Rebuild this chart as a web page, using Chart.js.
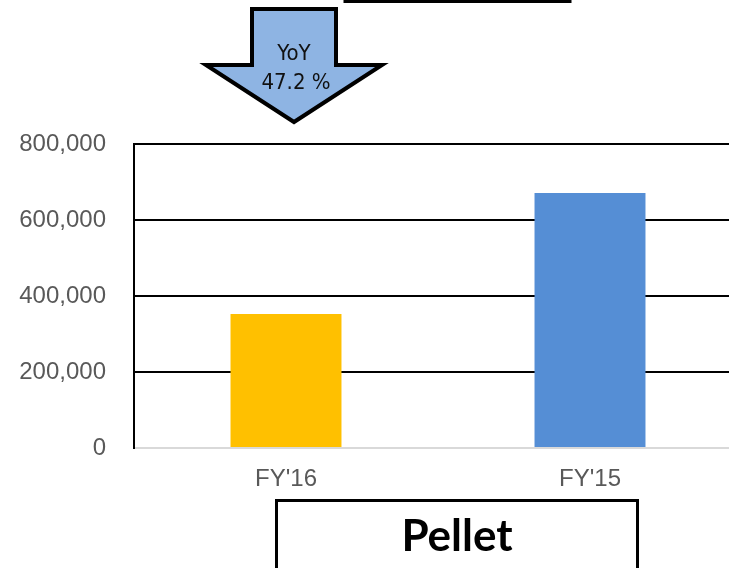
<!DOCTYPE html>
<html>
<head>
<meta charset="utf-8">
<script src="https://cdn.jsdelivr.net/npm/chart.js@4.4.1/dist/chart.umd.min.js"></script>
<style>
  html, body { margin: 0; padding: 0; background: #fff; overflow: hidden; }
  #wrap { position: relative; width: 742px; height: 568px; }
</style>
</head>
<body>
<div id="wrap"><canvas id="chart" width="742" height="568"></canvas></div>
<script>
// --- datos ---
const categories = ["FY'16", "FY'15"];
const volumes = [352600, 671000];
const barColors = ['#FFC000', '#558ED5'];
const yTicks = [0, 200000, 400000, 600000, 800000];
const yoyLabel = ['YoY', '47.2 %'];
const boxLabel = 'Pellet';

// Dibuja la flecha, las cajas y los textos fuera del gráfico
const decorations = {
    id: 'decorations',
    afterDraw(chart) {
        const ctx = chart.ctx;
        ctx.save();

        // caja superior (solo se ve el borde inferior)
        ctx.strokeStyle = '#000';
        ctx.lineWidth = 3;
        ctx.strokeRect(345, -20, 225, 21.5);

        // flecha hacia abajo
        ctx.beginPath();
        ctx.moveTo(252, 9);
        ctx.lineTo(336, 9);
        ctx.lineTo(336, 65);
        ctx.lineTo(382, 65);
        ctx.lineTo(294, 122);
        ctx.lineTo(206, 65);
        ctx.lineTo(252, 65);
        ctx.closePath();
        ctx.fillStyle = '#8EB4E3';
        ctx.fill();
        ctx.lineWidth = 4;
        ctx.lineJoin = 'miter';
        ctx.stroke();

        ctx.fillStyle = '#111';
        ctx.font = '22px "DejaVu Sans Condensed", "DejaVu Sans"';
        ctx.textAlign = 'center';
        ctx.textBaseline = 'middle';
        ctx.fillText(yoyLabel[0], 294, 54);
        ctx.fillText(yoyLabel[1], 296, 83);

        // caja inferior
        ctx.lineWidth = 3;
        ctx.strokeRect(276.5, 500.5, 361, 90);
        ctx.fillStyle = '#000';
        ctx.font = 'bold 44px Lato';
        ctx.textBaseline = 'alphabetic';
        ctx.fillText(boxLabel, 457, 551);

        ctx.restore();
    }
};

new Chart(document.getElementById('chart'), {
    type: 'bar',
    data: {
        labels: categories,
        datasets: [{
            data: volumes,
            backgroundColor: barColors,
            borderWidth: 0,
            categoryPercentage: 1,
            barPercentage: 0.365
        }]
    },
    options: {
        responsive: false,
        animation: false,
        layout: { padding: { top: 144, right: 0, left: 0, bottom: 0 } },
        plugins: { legend: { display: false }, tooltip: { enabled: false } },
        scales: {
            x: {
                grid: { display: false, drawTicks: false },
                border: { display: true, color: '#D9D9D9', width: 2 },
                ticks: {
                    color: '#595959',
                    font: { family: '"Liberation Sans", Arial', size: 24 },
                    padding: 17
                },
                afterFit: (scale) => { scale.height = 120; }
            },
            y: {
                min: 0,
                max: 800000,
                afterBuildTicks: (scale) => { scale.ticks = yTicks.map(v => ({ value: v })); },
                grid: {
                    color: (c) => c.tick && c.tick.value === 0 ? '#D9D9D9' : '#000',
                    lineWidth: 2,
                    drawTicks: false
                },
                border: { display: true, color: '#000', width: 2 },
                ticks: {
                    color: '#595959',
                    font: { family: '"Liberation Sans", Arial', size: 24 },
                    padding: 28,
                    callback: (v) => v.toLocaleString('en-US')
                },
                afterFit: (scale) => { scale.width = 134; }
            }
        }
    },
    plugins: [decorations]
});
</script>
</body>
</html>
